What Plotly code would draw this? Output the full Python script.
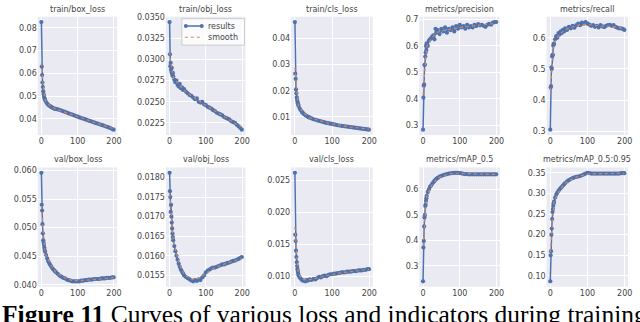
import numpy as np
import plotly.graph_objects as go

epochs = [0, 1, 2, 3, 4, 5, 6, 7, 8, 9,
          10, 13, 16, 19, 22, 25, 28, 31, 34, 37,
          40, 45, 50, 55, 60, 65, 70, 75, 80, 85, 90, 95, 100, 105, 110, 115, 120,
          125, 130, 135, 140, 145, 150, 155, 160, 165, 170, 175, 180, 185, 190, 195, 199]

train_box_loss = [0.0825, 0.0630, 0.0593, 0.0560, 0.0540, 0.0522, 0.0510, 0.0501, 0.0494, 0.0488,
                  0.0483, 0.0474, 0.0467, 0.0462, 0.0458, 0.0455, 0.0452, 0.0449, 0.0447, 0.0445,
                  0.0444, 0.0442, 0.0440, 0.0437, 0.0434, 0.0431, 0.0428, 0.0425, 0.0422, 0.0419,
                  0.0416, 0.0413, 0.0410, 0.0407, 0.0404, 0.0402, 0.0399, 0.0396, 0.0393, 0.0391,
                  0.0388, 0.0385, 0.0382, 0.0380, 0.0377, 0.0374, 0.0372, 0.0369, 0.0366, 0.0363,
                  0.0360, 0.0356, 0.0353]

train_obj_loss = [0.0344, 0.0306, 0.0292, 0.0296, 0.0288, 0.0285, 0.0290, 0.0283, 0.0281, 0.0284,
                  0.0280, 0.0276, 0.0273, 0.0275, 0.0270, 0.0268, 0.0271, 0.0266, 0.0267, 0.0264,
                  0.0265, 0.0262, 0.0260, 0.0258, 0.0257, 0.0255, 0.0253, 0.0254, 0.0250, 0.0249,
                  0.0250, 0.0247, 0.0246, 0.0244, 0.0243, 0.0242, 0.0240, 0.0239, 0.0237, 0.0236,
                  0.0235, 0.0234, 0.0232, 0.0231, 0.0230, 0.0229, 0.0227, 0.0226, 0.0225, 0.0223,
                  0.0221, 0.0219, 0.0217]

train_cls_loss = [0.0462, 0.0265, 0.0245, 0.0205, 0.0190, 0.0175, 0.0165, 0.0158, 0.0152, 0.0146,
                  0.0142, 0.0132, 0.0125, 0.0119, 0.0114, 0.0110, 0.0107, 0.0104, 0.0101, 0.0099,
                  0.0097, 0.0094, 0.0091, 0.0089, 0.0087, 0.0085, 0.0083, 0.0081, 0.0079, 0.0077,
                  0.0076, 0.0074, 0.0073, 0.0071, 0.0070, 0.0068, 0.0067, 0.0066, 0.0065, 0.0064,
                  0.0063, 0.0062, 0.0061, 0.0060, 0.0059, 0.0058, 0.0057, 0.0056, 0.0055, 0.0054,
                  0.0053, 0.0052, 0.0051]

precision = [0.284, 0.405, 0.450, 0.455, 0.528, 0.530, 0.560, 0.575, 0.600, 0.585,
             0.610, 0.600, 0.620, 0.625, 0.630, 0.635, 0.640, 0.625, 0.665, 0.650,
             0.660, 0.645, 0.665, 0.655, 0.670, 0.650, 0.665, 0.660, 0.670, 0.655,
             0.675, 0.665, 0.680, 0.670, 0.675, 0.665, 0.680, 0.670, 0.675, 0.670,
             0.680, 0.675, 0.682, 0.678, 0.680, 0.676, 0.672, 0.680, 0.683, 0.680,
             0.688, 0.690, 0.690]

recall = [0.305, 0.440, 0.445, 0.505, 0.500, 0.540, 0.545, 0.545, 0.575, 0.580,
          0.580, 0.595, 0.605, 0.600, 0.615, 0.610, 0.620, 0.615, 0.625, 0.620,
          0.630, 0.625, 0.635, 0.630, 0.638, 0.632, 0.640, 0.645, 0.640, 0.648,
          0.645, 0.650, 0.645, 0.642, 0.638, 0.640, 0.635, 0.638, 0.633, 0.640,
          0.636, 0.634, 0.638, 0.640, 0.641, 0.638, 0.640, 0.635, 0.632, 0.630,
          0.630, 0.628, 0.625]

val_box_loss = [0.0596, 0.0540, 0.0530, 0.0506, 0.0490, 0.0478, 0.0474, 0.0470, 0.0465, 0.0461,
                0.0458, 0.0452, 0.0446, 0.0441, 0.0437, 0.0434, 0.0431, 0.0428, 0.0426, 0.0424,
                0.0422, 0.0419, 0.0416, 0.0414, 0.0412, 0.0411, 0.0409, 0.0408, 0.0407, 0.0406,
                0.0406, 0.0406, 0.0406, 0.0406, 0.0407, 0.0407, 0.0408, 0.0408, 0.0409, 0.0409,
                0.0409, 0.0410, 0.0410, 0.0410, 0.0410, 0.0411, 0.0411, 0.0411, 0.0412, 0.0412,
                0.0412, 0.0413, 0.0413]

val_obj_loss = [0.01812, 0.01765, 0.01750, 0.01712, 0.01730, 0.01700, 0.01685, 0.01670, 0.01657, 0.01648,
                0.01640, 0.01625, 0.01612, 0.01600, 0.01590, 0.01580, 0.01572, 0.01565, 0.01560, 0.01555,
                0.01550, 0.01546, 0.01543, 0.01540, 0.01537, 0.01535, 0.01538, 0.01536, 0.01540, 0.01538,
                0.01545, 0.01550, 0.01558, 0.01562, 0.01565, 0.01568, 0.01570, 0.01570, 0.01572, 0.01574,
                0.01576, 0.01578, 0.01578, 0.01580, 0.01582, 0.01583, 0.01585, 0.01587, 0.01588, 0.01590,
                0.01592, 0.01595, 0.01597]

val_cls_loss = [0.0262, 0.0165, 0.0155, 0.0140, 0.0130, 0.0122, 0.0116, 0.0111, 0.0107, 0.0104,
                0.0101, 0.0098, 0.0096, 0.0094, 0.0093, 0.0093, 0.0092, 0.0094, 0.0093, 0.0094,
                0.0095, 0.0094, 0.0096, 0.0095, 0.0097, 0.0099, 0.0098, 0.0100, 0.0101, 0.0100,
                0.0102, 0.0103, 0.0103, 0.0104, 0.0104, 0.0105, 0.0105, 0.0106, 0.0106, 0.0106,
                0.0107, 0.0107, 0.0107, 0.0108, 0.0108, 0.0108, 0.0109, 0.0109, 0.0109, 0.0110,
                0.0110, 0.0111, 0.0111]

map_05 = [0.240, 0.372, 0.398, 0.455, 0.490, 0.500, 0.535, 0.540, 0.555, 0.565,
          0.575, 0.590, 0.600, 0.610, 0.615, 0.622, 0.628, 0.633, 0.638, 0.642,
          0.645, 0.650, 0.653, 0.656, 0.658, 0.660, 0.662, 0.663, 0.664, 0.665,
          0.665, 0.665, 0.664, 0.663, 0.661, 0.660, 0.660, 0.659, 0.659, 0.659,
          0.659, 0.659, 0.659, 0.659, 0.659, 0.659, 0.659, 0.659, 0.659, 0.659,
          0.659, 0.659, 0.659]

map_05_095 = [0.087, 0.150, 0.160, 0.200, 0.215, 0.238, 0.255, 0.262, 0.270, 0.276,
              0.280, 0.290, 0.297, 0.302, 0.306, 0.310, 0.313, 0.316, 0.319, 0.322,
              0.325, 0.329, 0.332, 0.335, 0.337, 0.339, 0.340, 0.341, 0.342, 0.344,
              0.346, 0.348, 0.350, 0.349, 0.348, 0.348, 0.348, 0.348, 0.348, 0.348,
              0.348, 0.348, 0.348, 0.348, 0.348, 0.348, 0.348, 0.348, 0.348, 0.348,
              0.349, 0.349, 0.349]

titles = ['train/box_loss', 'train/obj_loss', 'train/cls_loss', 'metrics/precision', 'metrics/recall',
          'val/box_loss', 'val/obj_loss', 'val/cls_loss', 'metrics/mAP_0.5', 'metrics/mAP_0.5:0.95']
series = [train_box_loss, train_obj_loss, train_cls_loss, precision, recall,
          val_box_loss, val_obj_loss, val_cls_loss, map_05, map_05_095]
dticks = [0.01, 0.0025, 0.01, 0.1, 0.1, 0.005, 0.0005, 0.005, 0.1, 0.05]
formats = ['.2f', '.4f', '.2f', '.1f', '.1f', '.3f', '.4f', '.3f', '.1f', '.2f']
legend_names = ['results', 'smooth']

W, H = 640, 322
col_px = [(38, 118), (167, 247), (293, 375), (422, 503), (550, 632)]
row_px = [(13, 134), (167, 289)]

BLUE = '#4C72B0'
ORANGE = '#DD8452'
TXT = '#444444'


def px(x, y):
    # pixel position -> paper coords
    return x / W, 1 - y / H


def smooth(y, sigma=3.0):
    # gaussian smoothing like the original results plot
    y = np.asarray(y, dtype=float)
    r = int(4 * sigma + 0.5)
    k = np.exp(-0.5 * (np.arange(-r, r + 1) / sigma) ** 2)
    k /= k.sum()
    yp = np.pad(y, r, mode='symmetric')
    return np.convolve(yp, k, mode='valid')


fig = go.Figure()
layout = dict(width=W, height=H, margin=dict(l=0, r=0, t=0, b=0),
              paper_bgcolor='white', plot_bgcolor='#EAEAF2',
              font=dict(family='DejaVu Sans', size=8, color=TXT),
              showlegend=False, annotations=[], shapes=[])

for i, (name, y) in enumerate(zip(titles, series)):
    r, c = divmod(i, 5)
    n = i + 1
    xa = 'x' if n == 1 else 'x%d' % n
    ya = 'y' if n == 1 else 'y%d' % n
    fig.add_trace(go.Scatter(x=epochs, y=y, xaxis=xa, yaxis=ya, mode='lines+markers',
                             name=legend_names[0],
                             line=dict(color=BLUE, width=1.5),
                             marker=dict(color=BLUE, size=4.2)))
    fig.add_trace(go.Scatter(x=epochs, y=smooth(y), xaxis=xa, yaxis=ya, mode='lines',
                             name=legend_names[1],
                             line=dict(color=ORANGE, width=1.2, dash='dot')))

    lo, hi = min(y), max(y)
    pad = 0.05 * (hi - lo)
    x0, x1 = col_px[c]
    t0, t1 = row_px[r]
    axis_style = dict(showline=False, zeroline=False, gridcolor='white', gridwidth=1,
                      ticks='', tickfont=dict(size=8, color=TXT))
    layout['xaxis' + ('' if n == 1 else str(n))] = dict(
        domain=[x0 / W, x1 / W], anchor=ya, range=[-10, 209],
        tickvals=[0, 100, 200], **axis_style)
    layout['yaxis' + ('' if n == 1 else str(n))] = dict(
        domain=[1 - t1 / H, 1 - t0 / H], anchor=xa, range=[lo - pad, hi + pad],
        tick0=0, dtick=dticks[i], tickformat=formats[i], **axis_style)
    layout['annotations'].append(dict(
        text=name, x=(x0 + x1) / 2 / W, y=1 - (t0 - 1) / H, xref='paper', yref='paper',
        xanchor='center', yanchor='bottom', showarrow=False,
        font=dict(size=8, color=TXT)))

# compact legend box in the train/obj_loss panel (plotly's own legend rows are too tall)
lx0, ly0 = px(183, 15)
lx1, ly1 = px(246, 42)
layout['shapes'].append(dict(type='rect', xref='paper', yref='paper', x0=lx0, y0=ly0, x1=lx1, y1=ly1,
                             fillcolor='rgba(255,255,255,0.8)', line=dict(color='#CCCCCC', width=1)))
for k, (label, yy) in enumerate(zip(legend_names, (22.5, 34))):
    a, b = px(186, yy)
    e, _ = px(204, yy)
    style = dict(color=BLUE, width=1.5) if k == 0 else dict(color=ORANGE, width=1.2, dash='dot')
    layout['shapes'].append(dict(type='line', xref='paper', yref='paper', x0=a, y0=b, x1=e, y1=b,
                                 line=style))
    if k == 0:
        for mx in (187, 203):
            cx, cy = px(mx, yy)
            layout['shapes'].append(dict(type='circle', xref='paper', yref='paper',
                                         x0=cx - 2 / W, x1=cx + 2 / W, y0=cy - 2 / H, y1=cy + 2 / H,
                                         fillcolor=BLUE, line=dict(width=0)))
    tx, ty = px(207, yy)
    layout['annotations'].append(dict(text=label, x=tx, y=ty, xref='paper', yref='paper',
                                      xanchor='left', yanchor='middle', showarrow=False,
                                      font=dict(size=8, color=TXT)))

# figure caption, cut by the bottom edge as in the source page
layout['annotations'].append(dict(
    text='<b>Figure 11</b> Curves of various loss and indicators during training',
    x=0, y=1 - 301 / H, xref='paper', yref='paper', xanchor='left', yanchor='top',
    showarrow=False, font=dict(family='Liberation Serif', size=25.5, color='black')))

fig.update_layout(**layout)
fig.write_html('out.html', config={'displayModeBar': False},
               post_script="document.body.style.margin='0';")
